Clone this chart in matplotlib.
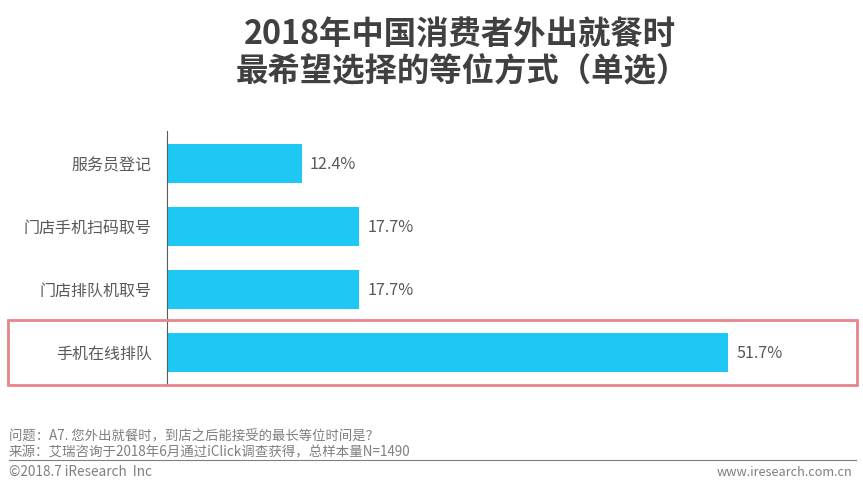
import matplotlib
matplotlib.use('Agg')
import matplotlib.pyplot as plt
from matplotlib.patches import Rectangle

plt.rcParams['font.family'] = ['Noto Sans CJK SC', 'DejaVu Sans']

categories = ['服务员登记', '门店手机扫码取号', '门店排队机取号', '手机在线排队']
values = [12.4, 17.7, 17.7, 51.7]
title_lines = ['2018年中国消费者外出就餐时', '最希望选择的等位方式（单选）']
note_1 = '问题：A7. 您外出就餐时，到店之后能接受的最长等位时间是？'
note_2 = '来源：艾瑞咨询于2018年6月通过iClick调查获得，总样本量N=1490'
copy_left = '©2018.7 iResearch  Inc'
copy_right = 'www.iresearch.com.cn'

W, H = 863, 488
fig = plt.figure(figsize=(W / 100, H / 100), dpi=100)

# axes placed in pixel coords of the reference
ax = fig.add_axes([167 / W, 1 - 385 / H, (863 - 167) / W, (385 - 131) / H])
ax.barh(range(len(values)), values, height=0.63, color='#1FC8F4')
ax.set_ylim(3.5 + 0.02, -0.5 - 0.02)
ax.set_xlim(0, 64.1)
ax.set_yticks(range(len(values)))
ax.set_yticklabels(categories, fontsize=11.5, color='#595959')
ax.tick_params(axis='y', length=0, pad=11)
ax.set_xticks([])
for s in ['top', 'right', 'bottom']:
    ax.spines[s].set_visible(False)
ax.spines['left'].set_color('#595959')
ax.spines['left'].set_linewidth(0.8)
ax.patch.set_alpha(0)
for i, v in enumerate(values):
    ax.annotate(f'{v}%', (v, i), xytext=(6, -0.7), textcoords='offset points',
                va='center', ha='left', fontsize=11.7, color='#595959')

# highlight box
fig.add_artist(Rectangle((8 / W, 1 - 385 / H), 849 / W, 65 / H, transform=fig.transFigure,
                         fill=False, edgecolor='#E8848C', linewidth=2))

fig.text(460 / W, 1 - 34 / H, title_lines[0], fontsize=23.3, fontweight='bold',
         color='#404040', ha='center', va='center')
fig.text(236 / W, 1 - 72 / H, title_lines[1], fontsize=23.3, fontweight='bold',
         color='#404040', ha='left', va='center')

fig.text(9 / W, 1 - 436 / H, note_1, fontsize=9.6, color='#7F7F7F', va='center')
fig.text(9 / W, 1 - 452 / H, note_2, fontsize=9.7, color='#7F7F7F', va='center')
fig.add_artist(plt.Line2D([9 / W, 856 / W], [1 - 460 / H] * 2, color='#7F7F7F', linewidth=0.8))
fig.text(9 / W, 1 - 472 / H, copy_left, fontsize=9.8, color='#7F7F7F', va='center')
fig.text(852 / W, 1 - 473 / H, copy_right, fontsize=9.2, color='#7F7F7F', va='center', ha='right')

fig.savefig('out.png', dpi=100)
